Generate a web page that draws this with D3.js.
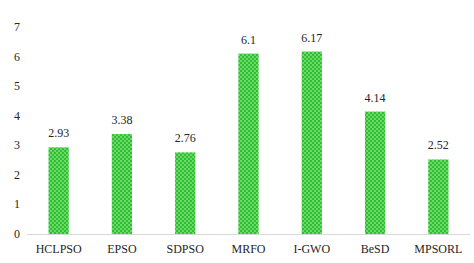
<!DOCTYPE html>
<html>
<head>
<meta charset="utf-8">
<script src="https://cdn.jsdelivr.net/npm/d3@7"></script>
<style>
  body { margin: 0; background: #fff; }
</style>
</head>
<body>
<script>
var width = 474,
    height = 263;

// chart data
var categories = ['HCLPSO', 'EPSO', 'SDPSO', 'MRFO', 'I-GWO', 'BeSD', 'MPSORL'];
var values = [2.93, 3.38, 2.76, 6.1, 6.17, 4.14, 2.52];
var yTicks = [0, 1, 2, 3, 4, 5, 6, 7];

var margin = {top: 27, right: 4, bottom: 29, left: 27};
var font = "Times New Roman, Liberation Serif, Tinos, serif";

var svg = d3.select("body").append("svg")
    .attr("width", width)
    .attr("height", height)
    .style("font-family", font);

// checker fill for the bars
var defs = svg.append("defs");
var pat = defs.append("pattern")
    .attr("id", "checker")
    .attr("width", 4)
    .attr("height", 4)
    .attr("patternUnits", "userSpaceOnUse");
pat.append("rect").attr("width", 4).attr("height", 4).attr("fill", "#2fbf2f");
pat.append("rect").attr("width", 2).attr("height", 2).attr("fill", "#6ad86a");
pat.append("rect").attr("x", 2).attr("y", 2).attr("width", 2).attr("height", 2).attr("fill", "#6ad86a");

var x = d3.scaleBand()
    .domain(categories)
    .range([margin.left, width - margin.right])
    .paddingInner(0.68)
    .paddingOuter(0.34);

var y = d3.scaleLinear()
    .domain([0, 7])
    .range([height - margin.bottom, margin.top]);

// y tick labels (no axis line)
svg.append("g")
    .selectAll("text")
    .data(yTicks)
    .enter().append("text")
    .attr("x", 20)
    .attr("y", function(d) { return y(d) + 4; })
    .attr("text-anchor", "end")
    .attr("fill", "#262626")
    .style("font", "12px " + font)
    .text(function(d) { return d; });

// bars
svg.append("g")
    .selectAll("rect")
    .data(values)
    .enter().append("rect")
    .attr("x", function(d, i) { return x(categories[i]); })
    .attr("y", function(d) { return y(d); })
    .attr("width", x.bandwidth())
    .attr("height", function(d) { return y(0) - y(d); })
    .attr("fill", "url(#checker)");

// baseline
svg.append("line")
    .attr("x1", margin.left)
    .attr("x2", width - margin.right)
    .attr("y1", y(0) + 0.5)
    .attr("y2", y(0) + 0.5)
    .attr("stroke", "#d9d9d9")
    .attr("stroke-width", 1);

// value labels
svg.append("g")
    .selectAll("text")
    .data(values)
    .enter().append("text")
    .attr("x", function(d, i) { return x(categories[i]) + x.bandwidth() / 2; })
    .attr("y", function(d) { return y(d) - 10; })
    .attr("text-anchor", "middle")
    .attr("fill", "#262626")
    .style("font", "12px " + font)
    .text(function(d) { return d; });

// category labels
svg.append("g")
    .selectAll("text")
    .data(categories)
    .enter().append("text")
    .attr("x", function(d) { return x(d) + x.bandwidth() / 2; })
    .attr("y", y(0) + 19)
    .attr("text-anchor", "middle")
    .attr("fill", "#262626")
    .style("font", "12px " + font)
    .text(function(d) { return d; });
</script>
</body>
</html>
